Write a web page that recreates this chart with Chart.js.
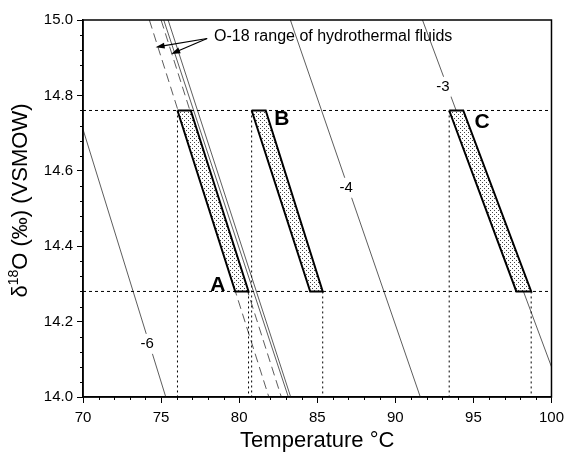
<!DOCTYPE html>
<html>
<head>
<meta charset="utf-8">
<script src="https://cdn.jsdelivr.net/npm/chart.js@4"></script>
<style>
  body { margin: 0; background: #fff; }
  #wrap { width: 570px; height: 454px; }
</style>
</head>
<body>
<div id="wrap"><canvas id="chart"></canvas></div>
<script>
// d18O levels (bottom / top) bounding each sample band
const hLevels = [14.28, 14.76];
// sample bands: temperature of each corner
const samples = ['A', 'B', 'C'];
const topLeft = [76.05, 80.8, 93.45];
const topRight = [76.9, 81.7, 94.35];
const bottomLeft = [79.75, 84.55, 97.75];
const bottomRight = [80.6, 85.35, 98.7];

// fluid d18O isolines
const isoLabels = ['-6', '-4', '-3'];
const isoX1 = [70, 83.28, 91.74];
const isoY1 = [14.71, 15.0, 15.0];
const isoX2 = [75.3, 91.6, 100];
const isoY2 = [14.0, 14.0, 14.08];

// hydrothermal fluid range lines (temperature at 15.0 and at 14.0)
const hydroTop = [74.25, 75.0, 75.17, 75.45];
const hydroBottom = [81.9, 82.7, 83.15, 83.3];
const hydroDashed = [true, true, false, false];

const xTicks = [70, 75, 80, 85, 90, 95, 100];
const yTicks = [14.0, 14.2, 14.4, 14.6, 14.8, 15.0];

const FONT = "'Liberation Sans', Arial, Helvetica, sans-serif";
const yTitle = ['\u03B4', '18', 'O (\u2030) (VSMOW)'];

const ctx = document.getElementById('chart');

function stipple() {
    const c = document.createElement('canvas');
    c.width = 4; c.height = 4;
    const g = c.getContext('2d');
    g.fillStyle = '#fff';
    g.fillRect(0, 0, 4, 4);
    g.fillStyle = '#444';
    g.fillRect(0, 0, 1, 1);
    g.fillRect(2, 2, 1, 1);
    return ctx.getContext('2d').createPattern(c, 'repeat');
}
const dots = stipple();

var datasets = [];

samples.forEach(function (s, i) {
    datasets.push({
        label: s,
        data: [
            {x: topLeft[i], y: hLevels[1]},
            {x: topRight[i], y: hLevels[1]},
            {x: bottomRight[i], y: hLevels[0]},
            {x: bottomLeft[i], y: hLevels[0]},
            {x: topLeft[i], y: hLevels[1]}
        ],
        showLine: true,
        fill: 'shape',
        backgroundColor: dots,
        borderColor: '#000',
        borderWidth: 2,
        borderJoinStyle: 'miter',
        pointRadius: 0
    });
});

hLevels.forEach(function (v) {
    datasets.push({
        data: [{x: xTicks[0], y: v}, {x: xTicks[xTicks.length - 1], y: v}],
        showLine: true, borderColor: '#000', borderWidth: 1, borderDash: [3, 3], pointRadius: 0
    });
});

topLeft.forEach(function (t) {
    datasets.push({
        data: [{x: t, y: hLevels[1]}, {x: t, y: yTicks[0]}],
        showLine: true, borderColor: '#000', borderWidth: 1, borderDash: [2, 3], pointRadius: 0
    });
});
bottomRight.forEach(function (t) {
    datasets.push({
        data: [{x: t, y: hLevels[0]}, {x: t, y: yTicks[0]}],
        showLine: true, borderColor: '#000', borderWidth: 1, borderDash: [2, 3], pointRadius: 0
    });
});

isoLabels.forEach(function (l, i) {
    datasets.push({
        label: l,
        data: [{x: isoX1[i], y: isoY1[i]}, {x: isoX2[i], y: isoY2[i]}],
        showLine: true, borderColor: '#333', borderWidth: 0.8, pointRadius: 0
    });
});

hydroTop.forEach(function (t, i) {
    datasets.push({
        data: [{x: t, y: 15.0}, {x: hydroBottom[i], y: 14.0}],
        showLine: true, borderColor: '#333', borderWidth: 0.8,
        borderDash: hydroDashed[i] ? [9, 5] : [], pointRadius: 0
    });
});

// text placed in data coordinates
const bandLabels = [{x: 78.64, y: 14.297}, {x: 82.73, y: 14.737}, {x: 95.55, y: 14.73}];
const isoLabelPos = [{x: 74.11, y: 14.141}, {x: 86.85, y: 14.555}, {x: 93.05, y: 14.823}];
const note = {text: 'O-18 range of hydrothermal fluids', x: 78.39, y: 14.956};
const arrowTail = {x: 77.95, y: 14.951};
const arrowHeads = [{x: 74.65, y: 14.928}, {x: 75.65, y: 14.91}];

const decor = {
    id: 'decor',
    afterDatasetsDraw(chart) {
        const c = chart.ctx, a = chart.chartArea, x = chart.scales.x, y = chart.scales.y;
        c.save();
        c.strokeStyle = '#000';
        c.fillStyle = '#000';

        // frame
        c.lineWidth = 1.5;
        c.strokeRect(a.left, a.top, a.right - a.left, a.bottom - a.top);

        // minor ticks
        c.lineWidth = 1;
        c.beginPath();
        for (let t = x.min; t <= x.max; t += 1) {
            if (t % 5 === 0) continue;
            const px = Math.round(x.getPixelForValue(t)) + 0.5;
            c.moveTo(px, a.bottom); c.lineTo(px, a.bottom + 3);
        }
        for (let i = 0; i <= 25; i++) {
            if (i % 5 === 0) continue;
            const py = Math.round(y.getPixelForValue(y.min + i * 0.04)) + 0.5;
            c.moveTo(a.left, py); c.lineTo(a.left - 3, py);
        }
        c.stroke();

        // isoline labels with a gap in the line
        c.font = '15px ' + FONT;
        c.textAlign = 'center';
        c.textBaseline = 'middle';
        isoLabels.forEach(function (l, i) {
            const px = x.getPixelForValue(isoLabelPos[i].x), py = y.getPixelForValue(isoLabelPos[i].y);
            const w = c.measureText(l).width;
            c.fillStyle = '#fff';
            c.fillRect(px - w / 2 - 2, py - 10, w + 4, 20);
            c.fillStyle = '#000';
            c.fillText(l, px, py);
        });

        // band labels
        c.font = 'bold 21px ' + FONT;
        samples.forEach(function (s, i) {
            c.fillText(s, x.getPixelForValue(bandLabels[i].x), y.getPixelForValue(bandLabels[i].y));
        });

        // note + arrows
        c.font = '16px ' + FONT;
        c.textAlign = 'left';
        c.fillText(note.text, x.getPixelForValue(note.x), y.getPixelForValue(note.y));
        const tx = x.getPixelForValue(arrowTail.x), ty = y.getPixelForValue(arrowTail.y);
        c.lineWidth = 1.2;
        arrowHeads.forEach(function (h) {
            const hx = x.getPixelForValue(h.x), hy = y.getPixelForValue(h.y);
            const ang = Math.atan2(hy - ty, hx - tx);
            c.beginPath();
            c.moveTo(tx, ty); c.lineTo(hx - 6 * Math.cos(ang), hy - 6 * Math.sin(ang));
            c.stroke();
            c.beginPath();
            c.moveTo(hx, hy);
            c.lineTo(hx - 9 * Math.cos(ang) + 3 * Math.sin(ang), hy - 9 * Math.sin(ang) - 3 * Math.cos(ang));
            c.lineTo(hx - 9 * Math.cos(ang) - 3 * Math.sin(ang), hy - 9 * Math.sin(ang) + 3 * Math.cos(ang));
            c.closePath();
            c.fill();
        });

        // y axis title with superscript
        c.translate(27, (a.top + a.bottom) / 2 - 8);
        c.rotate(-Math.PI / 2);
        c.textBaseline = 'alphabetic';
        const big = '22px ' + FONT, small = '14px ' + FONT;
        c.font = big;
        const w0 = c.measureText(yTitle[0]).width, w2 = c.measureText(yTitle[2]).width;
        c.font = small;
        const w1 = c.measureText(yTitle[1]).width;
        let sx = -(w0 + w1 + w2) / 2;
        c.font = big; c.fillText(yTitle[0], sx, 0); sx += w0;
        c.font = small; c.fillText(yTitle[1], sx, -9); sx += w1;
        c.font = big; c.fillText(yTitle[2], sx, 0);
        c.restore();
    }
};

new Chart(ctx, {
    type: 'scatter',
    data: { datasets: datasets },
    options: {
        responsive: true,
        maintainAspectRatio: false,
        animation: false,
        layout: { padding: { top: 20, right: 15, left: 0, bottom: 0 } },
        plugins: {
            legend: { display: false },
            tooltip: { enabled: false }
        },
        scales: {
            x: {
                type: 'linear',
                min: 70,
                max: 100,
                afterFit: function (s) { s.height = 57; },
                afterBuildTicks: function (s) { s.ticks = xTicks.map(function (v) { return {value: v}; }); },
                ticks: { color: '#000', font: { family: FONT, size: 15 }, padding: 6 },
                grid: { drawOnChartArea: false, drawTicks: true, tickLength: 6, color: '#000' },
                border: { color: '#000', width: 1.5 },
                title: { display: true, text: 'Temperature \u00B0C', color: '#000', font: { family: FONT, size: 22 }, padding: { top: 0, bottom: 0 } }
            },
            y: {
                type: 'linear',
                min: 14.0,
                max: 15.0,
                afterFit: function (s) { s.width = 83; },
                afterBuildTicks: function (s) { s.ticks = yTicks.map(function (v) { return {value: v}; }); },
                ticks: { color: '#000', font: { family: FONT, size: 15 }, padding: 4, callback: function (v) { return Number(v).toFixed(1); } },
                grid: { drawOnChartArea: false, drawTicks: true, tickLength: 6, color: '#000' },
                border: { color: '#000', width: 1.5 }
            }
        }
    },
    plugins: [decor]
});
</script>
</body>
</html>
